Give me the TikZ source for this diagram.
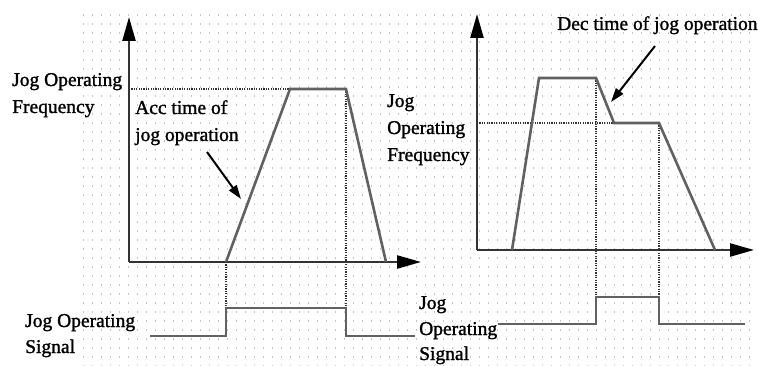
\documentclass[tikz,border=0pt]{standalone}
\usepackage{fontspec}
\setmainfont{Liberation Serif}[BoldFont=Liberation Serif,BoldFeatures={FakeBold=1.4}]
\usetikzlibrary{arrows.meta}
\begin{document}
\begin{tikzpicture}[x=1pt,y=-1pt,
  axis/.style={line width=2.4pt,draw=black!80,arrows={-{Triangle[length=24pt,width=13pt,fill=black,color=black]}}},
  curve/.style={line width=2.6pt,draw=black!62,line join=miter},
  guide/.style={line width=1.1pt,draw=black!80,dash pattern=on 1.2pt off 1.2pt},
  pointer/.style={line width=2pt,draw=black,-{Triangle[length=14pt,width=9pt]}},
  label/.style={anchor=base west,inner sep=0pt,font=\fontsize{19.5}{27}\selectfont\bfseries},
  dotrow/.style={line width=1.1pt,draw=black!22,dash pattern=on 1.1pt off 7.9pt}]
\useasboundingbox (0,0) rectangle (758,366);
\fill[white] (0,0) rectangle (758,366);
% dotted background grid
\foreach \yy in {15,24,...,366} \draw[dotrow] (83,\yy) -- (758,\yy);
% ---------- left chart ----------
\coordinate (O1) at (129,262);
\coordinate (Y1) at (129,17);
\coordinate (X1) at (421,262);
\coordinate (A1) at (226,262);
\coordinate (B1) at (290,89);
\coordinate (C1) at (346,89);
\coordinate (D1) at (386,262);
\coordinate (F1) at (129,89);
\coordinate (S1a) at (150,336);
\coordinate (S1b) at (226,336);
\coordinate (S1c) at (226,308);
\coordinate (S1d) at (346,308);
\coordinate (S1e) at (346,336);
\coordinate (S1f) at (415,336);
\draw[guide] (F1) -- (B1);
\draw[guide] (A1) -- (S1c);
\draw[guide] (C1) -- (S1d);
\draw[axis] (O1) -- (Y1);
\draw[axis] (O1) -- (X1);
\draw[curve] (A1) -- (B1) -- (C1) -- (D1);
\draw[curve] (S1a) -- (S1b) -- (S1c) -- (S1d) -- (S1e) -- (S1f);
\node[label] (lf1) at (12,86) {Jog Operating};
\node[label] (lf2) at (12,113) {Frequency};
\node[label] (acc1) at (135,114) {Acc time of};
\node[label] (acc2) at (135,141) {jog operation};
\coordinate (P1s) at (207,152);
\coordinate (P1e) at (241,199);
\draw[pointer] (P1s) -- (P1e);
\node[label] (ls1) at (25,327) {Jog Operating};
\node[label] (ls2) at (25,353) {Signal};
% ---------- right chart ----------
\coordinate (O2) at (477,250);
\coordinate (Y2) at (477,14);
\coordinate (X2) at (754,250);
\coordinate (A2) at (512,250);
\coordinate (B2) at (539,78);
\coordinate (C2) at (596,78);
\coordinate (D2) at (614,123);
\coordinate (E2) at (659,123);
\coordinate (G2) at (715,250);
\coordinate (F2) at (477,123);
\coordinate (S2a) at (498,324);
\coordinate (S2b) at (596,324);
\coordinate (S2c) at (596,297);
\coordinate (S2d) at (659,297);
\coordinate (S2e) at (659,324);
\coordinate (S2f) at (745,324);
\draw[guide] (F2) -- (D2);
\draw[guide] (C2) -- (S2c);
\draw[guide] (E2) -- (S2d);
\draw[axis] (O2) -- (Y2);
\draw[axis] (O2) -- (X2);
\draw[curve] (A2) -- (B2) -- (C2) -- (D2) -- (E2) -- (G2);
\draw[curve] (S2a) -- (S2b) -- (S2c) -- (S2d) -- (S2e) -- (S2f);
\node[label] (dec) at (557,30) {Dec time of jog operation};
\coordinate (P2s) at (655,46);
\coordinate (P2e) at (611,102);
\draw[pointer] (P2s) -- (P2e);
\node[label] (rf1) at (387,107) {Jog};
\node[label] (rf2) at (387,134) {Operating};
\node[label] (rf3) at (387,161) {Frequency};
\node[label] (rs1) at (419,309) {Jog};
\node[label] (rs2) at (419,335) {Operating};
\node[label] (rs3) at (419,360) {Signal};
\end{tikzpicture}
\end{document}
